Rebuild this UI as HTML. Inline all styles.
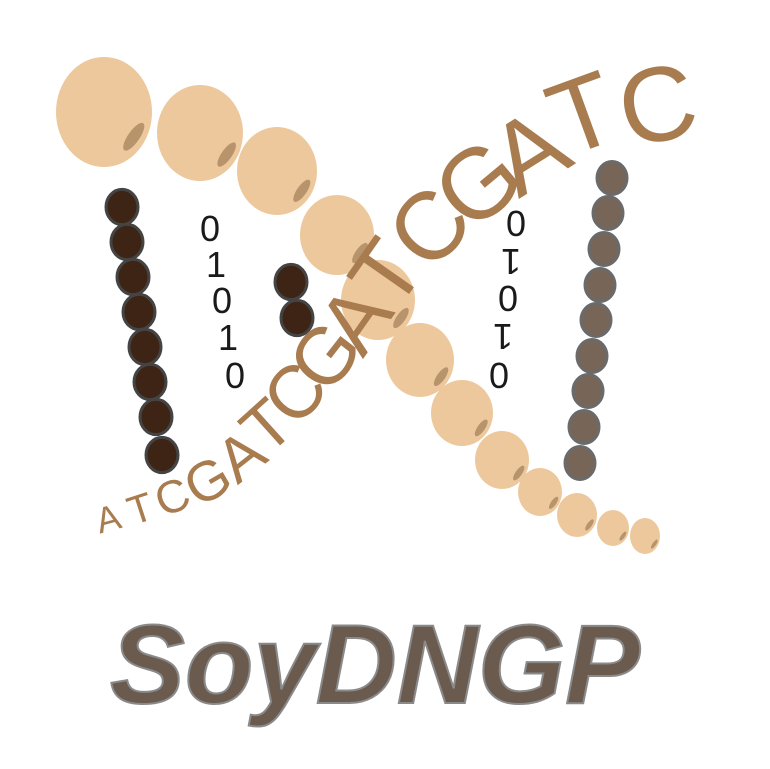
<!DOCTYPE html>
<html><head><meta charset="utf-8"><style>
html,body{margin:0;padding:0;background:#fff;width:770px;height:769px;overflow:hidden}
svg{display:block}
</style></head><body>
<svg width="770" height="769" viewBox="0 0 770 769">
<g id="beans"></g>
<g id="left"></g>
<g id="mid"></g>
<g id="right"></g>
<g font-family="Liberation Sans, sans-serif" font-size="36" fill="#1a1a1a" text-anchor="middle">
<text x="210" y="241" transform="scale(1,1)">0</text><text x="216" y="277">1</text><text x="222" y="313">0</text><text x="228" y="350">1</text><text x="235" y="388">0</text>
</g>
<g font-family="Liberation Sans, sans-serif" font-size="36" fill="#1a1a1a" text-anchor="middle">
<text x="516" y="236">0</text><text transform="translate(511,262) rotate(180)" y="13">1</text><text x="508" y="311">0</text><text transform="translate(503,337) rotate(180)" y="13">1</text><text x="499" y="388">0</text>
</g>
<g id="dna" font-family="Liberation Sans, sans-serif" fill="#a87c4f" text-anchor="middle"></g>
<text x="375" y="703" text-anchor="middle" textLength="530" lengthAdjust="spacingAndGlyphs" font-family="Liberation Sans, sans-serif" font-weight="bold" font-style="italic" font-size="112" fill="#6b5a4e" stroke="#8a8a8a" stroke-width="2">SoyDNGP</text>
</svg>
<script>
const NS='http://www.w3.org/2000/svg';
function mk(t,a,p){const e=document.createElementNS(NS,t);for(const k in a)e.setAttribute(k,a[k]);p.appendChild(e);return e;}
const beans=[[104,112,48,55],[200,133,43,48],[277,171,40,44],[337,235,37,40],[378,300,37,40],[420,360,34,37],[462,413,31,33],[502,460,27,29],[540,492,22,24],[577,515,20,22],[613,528,16,18],[645,536,15,18]];
const bg=document.getElementById('beans');
beans.forEach(b=>{const g=mk('g',{},bg);


mk('ellipse',{cx:b[0],cy:b[1],rx:b[2],ry:b[3],fill:'#edc89c'},g);
mk('ellipse',{cx:b[0]+b[2]*0.62,cy:b[1]+b[3]*0.45,rx:b[2]*0.12,ry:b[3]*0.3,fill:'#b8946c',transform:`rotate(35 ${b[0]+b[2]*0.62} ${b[1]+b[3]*0.45})`},g);});
function chain(id,pts,fill,stroke,r){const g=document.getElementById(id);pts.forEach(p=>{const c=mk('ellipse',{cx:p[0],cy:p[1],rx:r,ry:r*1.1,fill:fill,stroke:stroke,'stroke-width':3},g);

});}
chain('left',[[122,207],[127,242],[133,277],[139,312],[145,347],[150,382],[156,417],[162,455]],'#3d2415','#444',16);
chain('mid',[[291,282],[297,318]],'#3d2415','#444',16);
chain('right',[[612,178],[608,213],[604,249],[600,285],[596,320],[592,356],[588,391],[584,427],[580,463]],'#776558','#6a6a6a',15);
const letters=['A','T','C','G','A','T','C','G','A','T','C','G','A','T','C'];
const L=[[108,518,36,-15],[140,508,40,-18],[172,496,46,-22],[207,480,56,-30],[240,455,62,-38],[266,425,68,-42],[294,392,74,-48],[324,355,80,-52],[354,318,86,-55],[385,272,90,-55],[428,226,96,-48],[477,182,100,-40],[528,150,102,-32],[582,112,104,-20],[657,103,106,-12]];
const dg=document.getElementById('dna');
L.forEach((p,i)=>{const t=mk('text',{x:0,y:p[2]*0.36,'font-size':p[2],transform:`translate(${p[0]},${p[1]}) rotate(${p[3]})`},dg);t.textContent=letters[i];

});
</script>
</body></html>
